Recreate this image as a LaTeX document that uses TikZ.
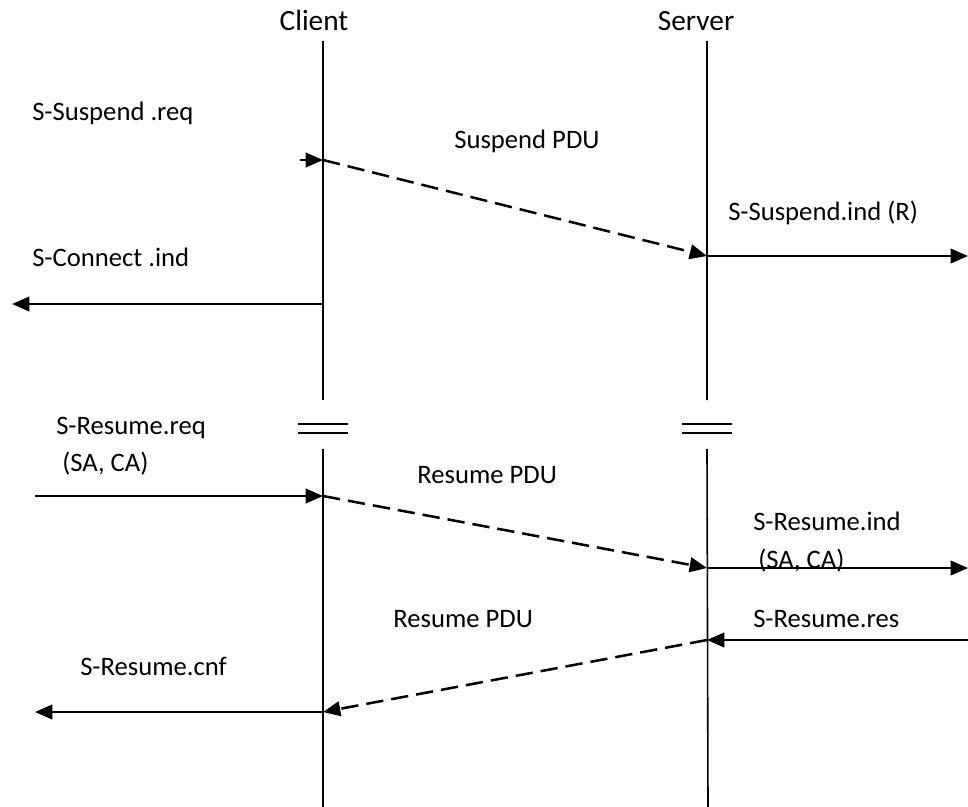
\documentclass[tikz,border=0pt]{standalone}
\usepackage{fontspec}
\setmainfont{Carlito}
\usetikzlibrary{arrows.meta}

\begin{document}
\begin{tikzpicture}[x=0.75pt,y=-0.75pt,
  life/.style={line width=1.2pt},
  msg/.style={line width=1.2pt,-{Triangle[length=13pt,width=11pt]}},
  pdu/.style={msg,line width=1.9pt,dash pattern=on 13pt off 6pt},
  lbl/.style={anchor=base west,inner sep=0pt,font=\fontsize{20}{24}\selectfont}]
\useasboundingbox (0,0) rectangle (968,807);
% lifelines
\node[lbl,anchor=base,font=\fontsize{22}{26}\selectfont] (client) at (314,30) {Client};
\node[lbl,anchor=base,font=\fontsize{22}{26}\selectfont] (server) at (696,30) {Server};
\coordinate (c0) at (323,41);  \coordinate (c1) at (323,400);
\coordinate (c2) at (323,449); \coordinate (c3) at (323,807);
\coordinate (s0) at (707,41);  \coordinate (s1) at (707,400);
\coordinate (s2) at (707,449); \coordinate (s3) at (708,807);
\draw[life] (c0) -- (c1) (c2) -- (c3);
\draw[life] (s0) -- (s1) (s2) -- (s3);
\foreach \x in {323,707}
  \foreach \y in {424,433}
    \draw[life] (\x-25,\y) -- (\x+25,\y);
% events
\coordinate (sreq) at (300,160); \coordinate (csus) at (323,160);
\coordinate (ssus) at (707,256); \coordinate (rind) at (968,256);
\coordinate (ccon) at (323,304); \coordinate (lcon) at (12,304);
\coordinate (lres) at (35,496);  \coordinate (cres) at (323,496);
\coordinate (sres) at (707,568); \coordinate (rres) at (968,568);
\coordinate (rrsp) at (968,640); \coordinate (srsp) at (707,640);
\coordinate (crsp) at (323,712); \coordinate (lcnf) at (35,712);
% suspend
\draw[msg] (sreq) -- (csus);
\draw[pdu] (csus) -- (ssus);
\draw[msg] (ssus) -- (rind);
\draw[msg] (ccon) -- (lcon);
% resume
\draw[msg] (lres) -- (cres);
\draw[pdu] (cres) -- (sres);
\draw[msg] (sres) -- (rres);
\draw[msg] (rrsp) -- (srsp);
\draw[pdu] (srsp) -- (crsp);
\draw[msg] (crsp) -- (lcnf);
% labels
\node[lbl] (lsreq) at (32,120) {S-Suspend .req};
\node[lbl] (lspdu) at (454,148) {Suspend PDU};
\node[lbl] (lsind) at (728,220) {S-Suspend.ind (R)};
\node[lbl] (lscon) at (32,266) {S-Connect .ind};
\node[lbl] (lrreq) at (56,434) {S-Resume.req};
\node[lbl] (lrreqa) at (62,471) {(SA, CA)};
\node[lbl] (lrpdu) at (417,483) {Resume PDU};
\node[lbl] (lrind) at (753,530) {S-Resume.ind};
\node[lbl] (lrinda) at (758,568) {(SA, CA)};
\node[lbl] (lrres) at (753,627) {S-Resume.res};
\node[lbl] (lrpdub) at (393,627) {Resume PDU};
\node[lbl] (lrcnf) at (80,675) {S-Resume.cnf};
\end{tikzpicture}
\end{document}
